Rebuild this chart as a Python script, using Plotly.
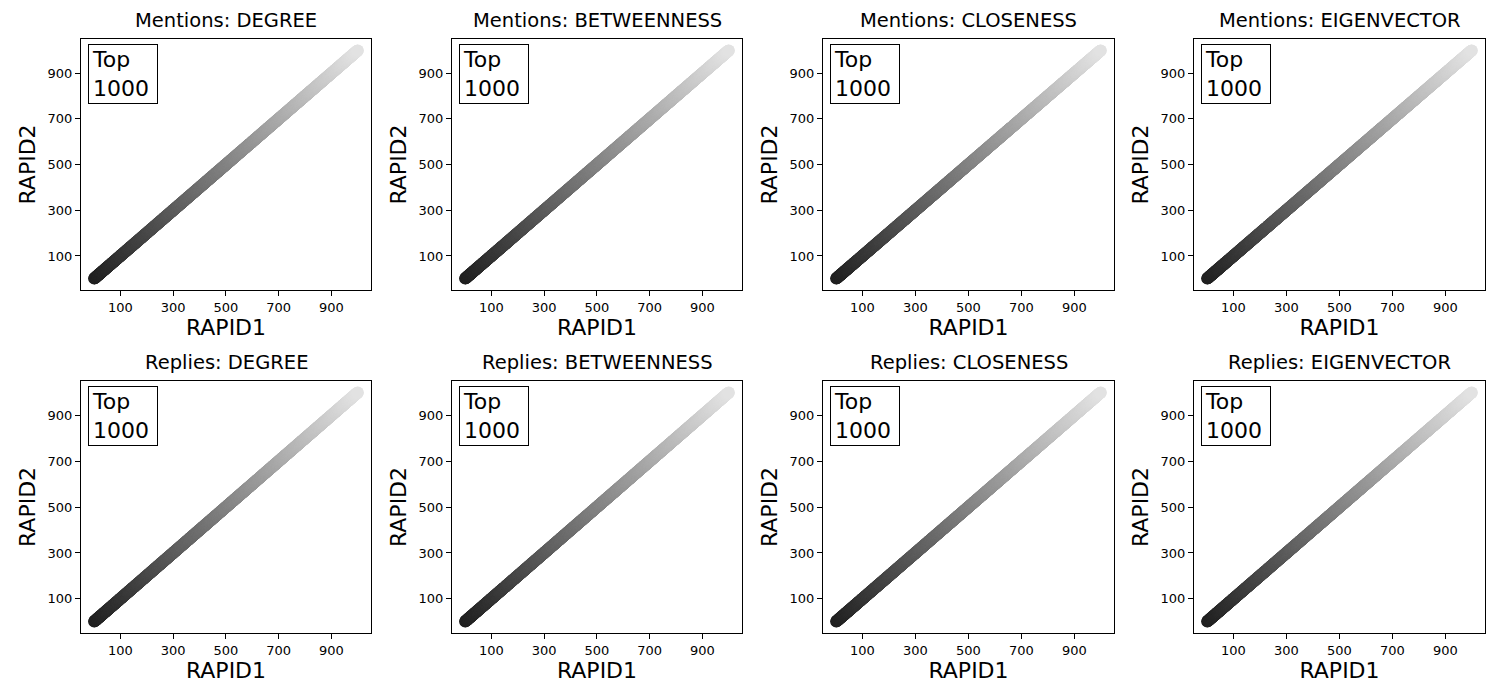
import plotly.graph_objects as go

# rank lists for the top 1000 accounts; RAPID2 ranks equal RAPID1 ranks in every panel
rapid1_rank = list(range(1, 1001))
rapid2_rank = list(range(1, 1001))

networks = ["Mentions", "Replies"]
measures = ["DEGREE", "BETWEENNESS", "CLOSENESS", "EIGENVECTOR"]
tick_vals = [100, 300, 500, 700, 900]
box_label = "Top<br>1000"

FONT = "DejaVu Sans"
# page body has an 8px margin, so the figure is drawn a bit smaller
OFF = 8
W, H = 1500 - 2 * OFF, 700 - 2 * OFF

# panel pixel boxes in the screenshot (left, right) and (top, bottom)
cols_px = [(81, 371), (452, 742), (823, 1114), (1194, 1485)]
rows_px = [(39, 290), (381, 633)]

fig = go.Figure()
annotations = []
n = 0
for r, net in enumerate(networks):
    for c, meas in enumerate(measures):
        n += 1
        xa = "x" if n == 1 else "x%d" % n
        ya = "y" if n == 1 else "y%d" % n
        fig.add_trace(go.Scatter(
            x=rapid1_rank, y=rapid2_rank, mode="markers",
            xaxis=xa, yaxis=ya, showlegend=False, hoverinfo="skip",
            marker=dict(size=12, color=rapid1_rank,
                        colorscale=[[0, "rgb(32,32,32)"], [1, "rgb(226,226,226)"]],
                        line=dict(width=0))))
        left, right = cols_px[c]
        top, bottom = rows_px[r]
        axis_common = dict(range=[-48.95, 1049.95], tickvals=tick_vals,
                           ticks="outside", ticklen=5, tickcolor="black",
                           showline=True, linecolor="black", linewidth=1, mirror=True,
                           showgrid=False, zeroline=False,
                           tickfont=dict(size=13, color="black", family=FONT))
        fig.layout["xaxis" if n == 1 else "xaxis%d" % n] = dict(
            axis_common, domain=[(left - OFF) / W, (right - OFF) / W], anchor=ya,
            title=dict(text="RAPID1", font=dict(size=22, color="black", family=FONT), standoff=5))
        fig.layout["yaxis" if n == 1 else "yaxis%d" % n] = dict(
            axis_common, domain=[1 - (bottom - OFF) / H, 1 - (top - OFF) / H], anchor=xa,
            title=dict(text="RAPID2", font=dict(size=22, color="black", family=FONT), standoff=5))
        annotations.append(dict(
            text="%s: %s" % (net, meas), xref=xa + " domain", yref=ya + " domain",
            x=0.5, y=1, yshift=5, xanchor="center", yanchor="bottom", showarrow=False,
            font=dict(size=19.5, color="black", family=FONT)))
        annotations.append(dict(
            text=box_label, xref=xa + " domain", yref=ya + " domain",
            x=0.025, y=0.98, xanchor="left", yanchor="top", align="left", showarrow=False,
            width=62, height=52,
            bordercolor="black", borderwidth=1, borderpad=3, bgcolor="white",
            font=dict(size=22, color="black", family=FONT)))

fig.update_layout(width=W, height=H, margin=dict(l=0, r=0, t=0, b=0),
                  plot_bgcolor="white", paper_bgcolor="white",
                  annotations=annotations, font=dict(family=FONT))
fig.write_html("out.html")
